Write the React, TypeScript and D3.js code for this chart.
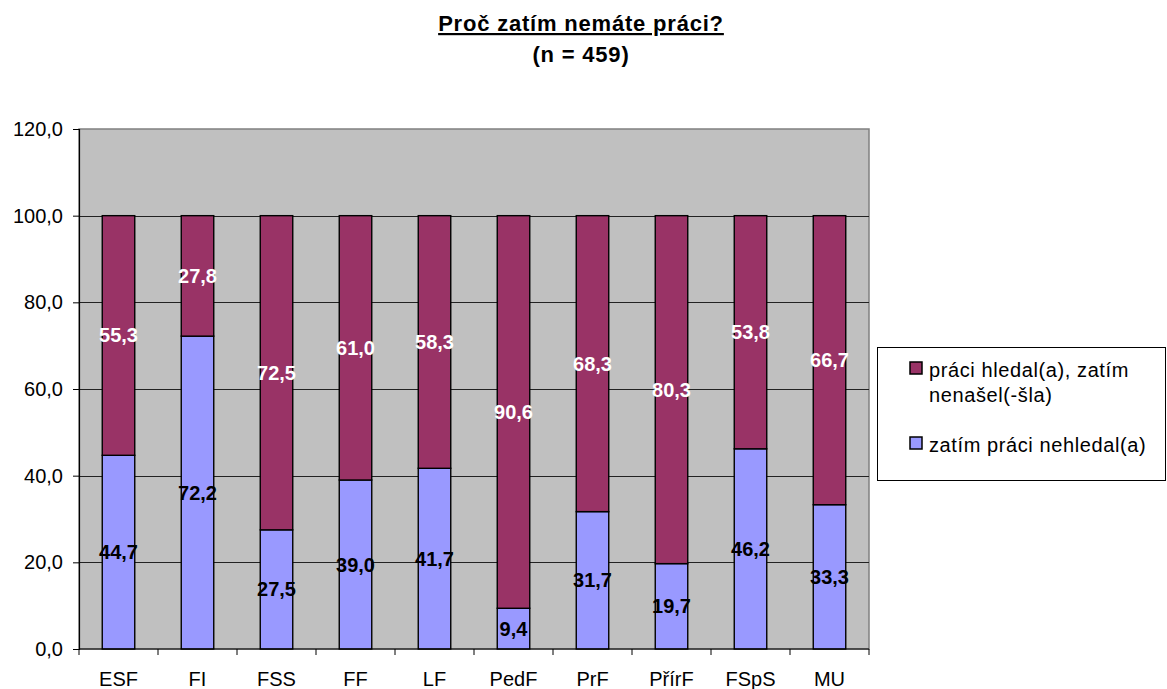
import { useEffect, useRef } from 'react';
import * as d3 from 'd3';

const categories = ['ESF', 'FI', 'FSS', 'FF', 'LF', 'PedF', 'PrF', 'PřírF', 'FSpS', 'MU'];
const notSearched = [44.7, 72.2, 27.5, 39.0, 41.7, 9.4, 31.7, 19.7, 46.2, 33.3];
const searchedNotFound = [55.3, 27.8, 72.5, 61.0, 58.3, 90.6, 68.3, 80.3, 53.8, 66.7];
const yTicks = [0, 20, 40, 60, 80, 100, 120];

const seriesNames = ['zatím práci nehledal(a)', 'práci hledal(a), zatím nenašel(-šla)'];
const seriesColors = ['#9999FF', '#993366'];
const labelColors = ['#000000', '#FFFFFF'];

const FONT = '"Liberation Sans", Arial, sans-serif';

const fmt = (v: number) => v.toFixed(1).replace('.', ',');

export default function App() {
  const svgRef = useRef<SVGSVGElement>(null);

  useEffect(() => {
    if (!svgRef.current) return;
    const svg = d3.select(svgRef.current);
    svg.selectAll('*').remove();

    const plot = { left: 79, right: 869, top: 129, bottom: 649 };

    const x = d3.scaleBand<string>()
      .domain(categories)
      .range([plot.left, plot.right]);

    const y = d3.scaleLinear()
      .domain([0, 120])
      .range([plot.bottom, plot.top]);

    // Title
    svg.append('text')
      .attr('x', 581)
      .attr('y', 31)
      .attr('text-anchor', 'middle')
      .style('font-family', FONT)
      .style('font-size', '22px')
      .style('letter-spacing', '0.8px')
      .style('font-weight', 'bold')
      .style('text-decoration', 'underline')
      .text('Proč zatím nemáte práci?');

    svg.append('text')
      .attr('x', 581)
      .attr('y', 62)
      .attr('text-anchor', 'middle')
      .style('font-family', FONT)
      .style('font-size', '22px')
      .style('letter-spacing', '0.8px')
      .style('font-weight', 'bold')
      .text('(n = 459)');

    // Plot background
    svg.append('rect')
      .attr('x', plot.left)
      .attr('y', plot.top)
      .attr('width', plot.right - plot.left)
      .attr('height', plot.bottom - plot.top)
      .attr('fill', '#C0C0C0')
      .attr('stroke', '#808080')
      .attr('stroke-width', 1.5);

    // Gridlines
    svg.append('g')
      .selectAll('line')
      .data(yTicks.filter(t => t > 0 && t < 120))
      .enter()
      .append('line')
      .attr('x1', plot.left)
      .attr('x2', plot.right)
      .attr('y1', d => Math.round(y(d)) + 0.5)
      .attr('y2', d => Math.round(y(d)) + 0.5)
      .attr('stroke', '#222')
      .attr('stroke-width', 1);

    // Stacked bars
    const stackData = categories.map((c, i) => ({ cat: c, s0: notSearched[i], s1: searchedNotFound[i] }));
    const stack = d3.stack<any>().keys(['s0', 's1']);
    const layers = stack(stackData);

    const barW = 32.5;

    layers.forEach((layer, li) => {
      svg.append('g')
        .selectAll('rect')
        .data(layer)
        .enter()
        .append('rect')
        .attr('x', d => (x(d.data.cat) as number) + x.bandwidth() / 2 - barW / 2)
        .attr('y', d => y(d[1]))
        .attr('width', barW)
        .attr('height', d => y(d[0]) - y(d[1]))
        .attr('fill', seriesColors[li])
        .attr('stroke', '#000')
        .attr('stroke-width', 1.4);
    });

    // Data labels
    layers.forEach((layer, li) => {
      svg.append('g')
        .selectAll('text')
        .data(layer)
        .enter()
        .append('text')
        .attr('x', d => (x(d.data.cat) as number) + x.bandwidth() / 2)
        .attr('y', d => y((d[0] + d[1]) / 2))
        .attr('dy', '0.35em')
        .attr('text-anchor', 'middle')
        .style('font-family', FONT)
        .style('font-size', '20px')
        .style('font-weight', 'bold')
        .attr('fill', labelColors[li])
        .text(d => fmt(d[1] - d[0]));
    });

    // Y axis
    const yAxis = d3.axisLeft(y)
      .tickValues(yTicks)
      .tickSize(6)
      .tickFormat(d => fmt(d as number));

    const gy = svg.append('g')
      .attr('transform', `translate(${plot.left},0)`)
      .call(yAxis);
    gy.select('.domain').attr('stroke', '#000').attr('stroke-width', 1.2);
    gy.selectAll('.tick line').attr('stroke', '#000');
    gy.selectAll('.tick text')
      .attr('x', -16)
      .style('font-family', FONT)
      .style('font-size', '20px')
      .attr('fill', '#000');

    // X axis
    const gx = svg.append('g')
      .attr('transform', `translate(0,${plot.bottom})`);
    gx.append('line')
      .attr('x1', plot.left)
      .attr('x2', plot.right)
      .attr('y1', 0)
      .attr('y2', 0)
      .attr('stroke', '#000')
      .attr('stroke-width', 1.2);
    gx.selectAll('line.tk')
      .data(d3.range(categories.length + 1))
      .enter()
      .append('line')
      .attr('class', 'tk')
      .attr('x1', i => plot.left + i * x.step())
      .attr('x2', i => plot.left + i * x.step())
      .attr('y1', 0)
      .attr('y2', 6)
      .attr('stroke', '#000');
    gx.selectAll('text')
      .data(categories)
      .enter()
      .append('text')
      .attr('x', d => (x(d) as number) + x.bandwidth() / 2)
      .attr('y', 37)
      .attr('text-anchor', 'middle')
      .style('font-family', FONT)
      .style('font-size', '20px')
      .attr('fill', '#000')
      .text(d => d);

    // Legend
    const legend = svg.append('g');
    legend.append('rect')
      .attr('x', 877.5)
      .attr('y', 347.5)
      .attr('width', 288)
      .attr('height', 133)
      .attr('fill', '#fff')
      .attr('stroke', '#000')
      .attr('stroke-width', 1);

    const legendItems = [
      { color: seriesColors[1], lines: ['práci hledal(a), zatím', 'nenašel(-šla)'], y: 362 },
      { color: seriesColors[0], lines: [seriesNames[0]], y: 437 },
    ];
    legendItems.forEach(item => {
      legend.append('rect')
        .attr('x', 910)
        .attr('y', item.y)
        .attr('width', 12)
        .attr('height', 12)
        .attr('fill', item.color)
        .attr('stroke', '#000')
        .attr('stroke-width', 1.5);
      item.lines.forEach((ln, k) => {
        legend.append('text')
          .attr('x', 929)
          .attr('y', item.y + 15 + k * 25)
          .style('font-family', FONT)
          .style('font-size', '20px')
          .style('letter-spacing', '0.6px')
          .attr('fill', '#000')
          .text(ln);
      });
    });
  }, []);

  return (
    <svg
      ref={svgRef}
      width={1167}
      height={689}
      style={{ position: 'absolute', left: 0, top: 0, background: '#fff' }}
    />
  );
}
